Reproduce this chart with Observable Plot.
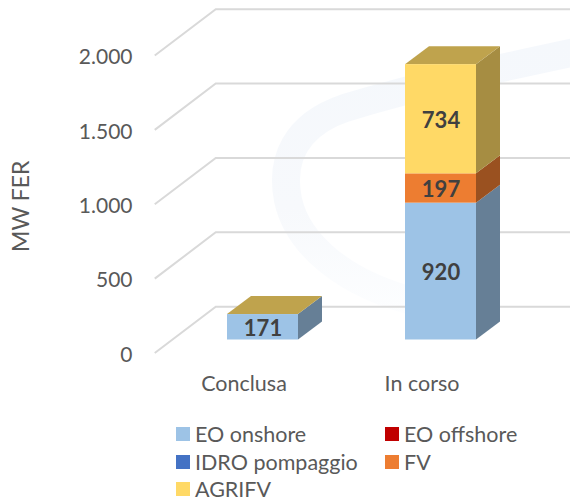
<!DOCTYPE html>
<html lang="it">
<head>
<meta charset="utf-8">
<script src="https://cdn.jsdelivr.net/npm/d3@7"></script>
<script src="https://cdn.jsdelivr.net/npm/@observablehq/plot@0.6"></script>
<style>
  html,body{margin:0;padding:0;background:#fff}
  #page{position:relative;width:570px;height:502px;overflow:hidden;font-family:Lato,sans-serif}
  #wm{position:absolute;left:0;top:0}
  #chart{position:absolute;left:0;top:0}
  #chart svg{background:transparent!important;display:block}
  #legend{position:absolute;left:176px;top:423px;display:grid;grid-template-columns:209px 170px;grid-auto-rows:22px;row-gap:5.5px;font-size:21.5px;color:#595959;line-height:22px}
  #legend div{display:flex;align-items:center;white-space:nowrap}
  #legend i{display:inline-block;width:14px;height:14px;margin-right:5px;flex:none}
</style>
</head>
<body>
<div id="page">
  <svg id="wm" width="570" height="502">
    <defs>
      <linearGradient id="fade" gradientUnits="userSpaceOnUse" x1="0" y1="40" x2="0" y2="320">
        <stop offset="0" stop-color="#f5f8fc"/>
        <stop offset="0.6" stop-color="#f7f9fc"/>
        <stop offset="1" stop-color="#fdfeff"/>
      </linearGradient>
    </defs>
    <path d="M575 52C500 68 420 85 345 108C295 125 280 160 288 200C298 245 345 285 420 303" fill="none" stroke="url(#fade)" stroke-width="28"/>
  </svg>
  <div id="chart"></div>
  <div id="legend"></div>
</div>
<script>
const categories = ["Conclusa", "In corso"];
const seriesNames = ["EO onshore", "EO offshore", "IDRO pompaggio", "FV", "AGRIFV"];
const seriesColors = ["#9DC3E6", "#C00000", "#4472C4", "#ED7D31", "#FFD966"];
const eoOnshore = [171, 920];
const eoOffshore = [0, 0];
const idroPompaggio = [0, 0];
const fv = [0, 197];
const agriFv = [0, 734];
const yTicks = [0, 500, 1000, 1500, 2000];
const seriesValues = [eoOnshore, eoOffshore, idroPompaggio, fv, agriFv];

// Stack every series per category
const rows = [];
categories.forEach((c, ci) => {
  let base = 0;
  seriesNames.forEach((s, si) => {
    const v = seriesValues[si][ci];
    rows.push({category: c, series: s, value: v, y1: base, y2: base + v, last: si === seriesNames.length - 1});
    base += v;
  });
});

// oblique projection of the 3D look, in pixels
const barDepth = {dx: 24, dy: -18};
const wallBack = {dx: 43, dy: -32.8};
const wallFront = {dx: -18, dy: 13.5};
const gridColor = "#D9D9D9";
const shade = (col, k) => { const c = d3.rgb(col); return d3.rgb(c.r * k, c.g * k, c.b * k).formatHex(); };
const colorOf = s => seriesColors[seriesNames.indexOf(s)];

function walls(index, {x, y}) {
  const g = d3.create("svg:g").attr("stroke", gridColor).attr("stroke-width", 2).attr("fill", "none");
  const x0 = x.range()[0];
  for (const v of yTicks) {
    const yy = y(v);
    g.append("path").attr("d", d3.line()([
      [x0 + wallFront.dx, yy + wallFront.dy],
      [x0 + wallBack.dx, yy + wallBack.dy],
      [572, yy + wallBack.dy]
    ]));
  }
  return g.node();
}

function sides(index, {x, y}) {
  const g = d3.create("svg:g");
  const bw = x.bandwidth();
  for (const r of rows) {
    const xl = x(r.category), xr = xl + bw, a = y(r.y1), b = y(r.y2);
    if (r.value > 0) {
      g.append("path").attr("fill", shade(colorOf(r.series), 0.65)).attr("d", d3.line()([
        [xr, a], [xr + barDepth.dx, a + barDepth.dy], [xr + barDepth.dx, b + barDepth.dy], [xr, b]
      ]) + "Z");
    }
    if (r.last) {
      g.append("path").attr("fill", shade(colorOf(r.series), 0.75)).attr("d", d3.line()([
        [xl, b], [xr, b], [xr + barDepth.dx, b + barDepth.dy], [xl + barDepth.dx, b + barDepth.dy]
      ]) + "Z");
    }
  }
  return g.node();
}

const chart = Plot.plot({
  width: 570,
  height: 410,
  marginTop: 0, marginBottom: 34.5, marginLeft: 0, marginRight: 0,
  style: {fontFamily: "Lato, sans-serif", background: "transparent"},
  x: {domain: categories, range: [172.75, 529.75], paddingInner: 0.6, paddingOuter: 0.3, label: null},
  y: {domain: [0, 2000], range: [339.5, 42], label: null},
  color: {domain: seriesNames, range: seriesColors},
  marks: [
    walls,
    sides,
    Plot.barY(rows.filter(d => d.value > 0), {x: "category", y1: "y1", y2: "y2", fill: "series"}),
    Plot.text(rows.filter(d => d.value > 0), {
      x: "category", y: d => (d.y1 + d.y2) / 2, text: d => String(d.value),
      fill: "#404040", fontWeight: 700, fontSize: 22, dy: 1.5
    }),
    Plot.axisY({
      ticks: yTicks, tickSize: 0, anchor: "left", label: null,
      tickFormat: d => d3.format(",")(d).replace(/,/g, "."),
      fontSize: 21, color: "#595959", dx: 132, dy: 15, tickPadding: 0, textAnchor: "end"
    }),
    Plot.axisX({
      tickSize: 0, label: null, anchor: "bottom", fontSize: 21.5, color: "#595959", dx: -19, tickPadding: 0
    }),
    Plot.text(["MW FER"], {
      frameAnchor: "left", textAnchor: "middle", text: d => d, rotate: -90, fontSize: 23, fill: "#595959", dx: 21, dy: 18
    })
  ]
});
document.getElementById("chart").appendChild(chart);

const legend = d3.select("#legend");
seriesNames.forEach((s, i) => {
  const item = legend.append("div");
  item.append("i").style("background", seriesColors[i]);
  item.append("span").text(s);
});
</script>
</body>
</html>
